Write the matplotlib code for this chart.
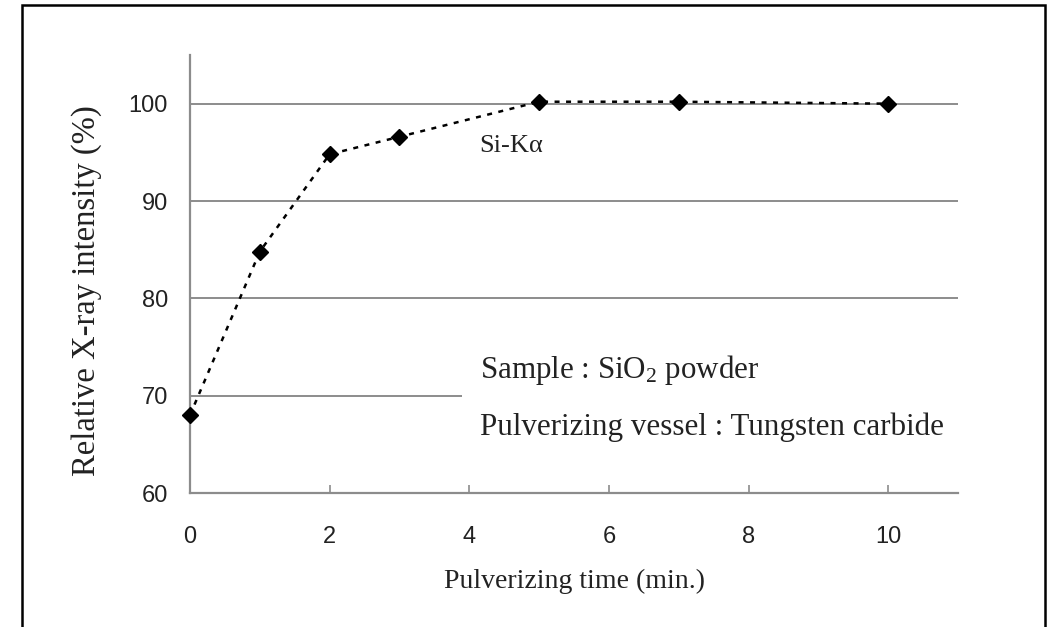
import matplotlib.pyplot as plt
from matplotlib.patches import Rectangle

plt.rcParams['mathtext.fontset'] = 'custom'
plt.rcParams['mathtext.rm'] = 'Liberation Serif'
plt.rcParams['mathtext.it'] = 'Liberation Serif:italic'

# Data
time_min = [0, 1, 2, 3, 5, 7, 10]
intensity = [68.0, 84.8, 94.8, 96.6, 100.2, 100.2, 100.0]
y_grid = [70, 80, 90, 100]
x_ticks = [0, 2, 4, 6, 8, 10]
y_ticks = [60, 70, 80, 90, 100]

serif = 'Liberation Serif'
sans = 'Liberation Sans'
grey = '#8c8c8c'
ink = '#222222'

W, H = 1048, 627
fig = plt.figure(figsize=(W / 100, H / 100), dpi=100)
ax = fig.add_axes([190 / W, 1 - 493 / H, 768 / W, 438 / H])

# grid lines (the 70 line stops where the text block starts)
for g in y_grid:
    xend = 3.9 if g == 70 else 11
    ax.hlines(g, 0, xend, color=grey, lw=1.4, zorder=1)

ax.plot(time_min, intensity, color='black', lw=1.8, linestyle=(0, (2, 2.6)),
        marker='D', markersize=8.5, zorder=3, clip_on=False)

ax.set_xlim(0, 11)
ax.set_ylim(60, 105)
ax.set_xticks(x_ticks)
ax.set_yticks(y_ticks)

for s in ['top', 'right']:
    ax.spines[s].set_visible(False)
for s in ['left', 'bottom']:
    ax.spines[s].set_color(grey)
    ax.spines[s].set_linewidth(1.6)

ax.tick_params(axis='x', direction='in', length=6, width=1.2, color=grey,
               pad=24, labelsize=17, labelcolor=ink)
ax.tick_params(axis='y', length=0, pad=16, labelsize=17, labelcolor=ink)
for lab in ax.get_xticklabels() + ax.get_yticklabels():
    lab.set_family(sans)

ax.text(4.14, 95.0, 'Si-K\u03b1', family=serif, fontsize=19, color=ink,
        ha='left', va='baseline')
ax.text(4.155, 71.8, 'Sample : SiO$_\\mathrm{2}$ powder', family=serif,
        fontsize=22.3, color=ink, ha='left', va='baseline')
ax.text(4.155, 65.95, 'Pulverizing vessel : Tungsten carbide', family=serif,
        fontsize=22.3, color=ink, ha='left', va='baseline')

fig.text(575 / W, 1 - 588 / H, 'Pulverizing time (min.)', family=serif,
         fontsize=20, color=ink, ha='center', va='baseline')
fig.text(87 / W, 1 - 291 / H, 'Relative X-ray intensity (%)', family=serif,
         fontsize=23.5, color=ink, ha='center', va='center', rotation=90)

# outer frame
fig.patches.append(Rectangle((22 / W, -0.05), (1045 - 22) / W, 1.05 - 5 / H,
                             transform=fig.transFigure, fill=False,
                             edgecolor='black', lw=1.8))

fig.savefig('out.png', dpi=100)
